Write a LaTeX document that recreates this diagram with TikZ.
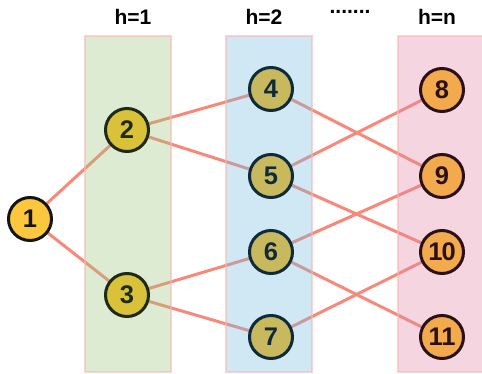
\documentclass[tikz,border=0pt]{standalone}
\usepackage{fontspec}
\setmainfont{Liberation Sans}
\definecolor{edgec}{HTML}{F8897A}
\definecolor{gfill}{HTML}{9EC681}
\definecolor{bfill}{HTML}{79BAE0}
\definecolor{pfill}{HTML}{E287A4}
\definecolor{boxborder}{HTML}{F7B8B2}
\definecolor{c1fill}{HTML}{FCC73C}
\definecolor{c2fill}{HTML}{D9C23A}
\definecolor{c3fill}{HTML}{C9B95E}
\definecolor{c4fill}{HTML}{F2AA4C}
\definecolor{c1line}{HTML}{141414}
\definecolor{c2line}{HTML}{1E2A18}
\definecolor{c3line}{HTML}{0F2A3A}
\definecolor{c4line}{HTML}{2A1018}
\tikzset{
  vnode/.style={circle, minimum size=43pt, inner sep=0pt, line width=3pt,
    font=\fontsize{25.5}{25.5}\selectfont\bfseries},
  n1/.style={vnode, fill=c1fill, draw=c1line, text=c1line},
  n2/.style={vnode, fill=c2fill, draw=c2line, text=c2line},
  n3/.style={vnode, fill=c3fill, draw=c3line, text=c3line},
  n4/.style={vnode, fill=c4fill, draw=c4line, text=c4line},
  edge/.style={draw=edgec, line width=3pt},
  layerbox/.style={fill opacity=0.35, draw=boxborder, draw opacity=0.6, line width=2pt},
  hlabel/.style={anchor=base, inner sep=0pt, font=\fontsize{21}{21}\selectfont\bfseries}
}
\begin{document}
\begin{tikzpicture}[x=1pt,y=-1pt]
\useasboundingbox (0,0) rectangle (482,374);
% node positions (coordinates only, nodes drawn later)
\coordinate (p1) at (30,219);
\coordinate (p2) at (127,130);
\coordinate (p3) at (127,295);
\coordinate (p4) at (271,89);
\coordinate (p5) at (271,176);
\coordinate (p6) at (271,252);
\coordinate (p7) at (271,337);
\coordinate (p8) at (442,90);
\coordinate (p9) at (442,176);
\coordinate (p10) at (442,252);
\coordinate (p11) at (442,337);
% edges
\draw[edge] (p1) -- (p2);
\draw[edge] (p1) -- (p3);
\draw[edge] (p2) -- (p4);
\draw[edge] (p2) -- (p5);
\draw[edge] (p3) -- (p6);
\draw[edge] (p3) -- (p7);
\draw[edge] (p4) -- (p9);
\draw[edge] (p5) -- (p8);
\draw[edge] (p5) -- (p10);
\draw[edge] (p6) -- (p9);
\draw[edge] (p6) -- (p11);
\draw[edge] (p7) -- (p10);
% layer boxes
\draw[layerbox, fill=gfill] (85,36) rectangle (171,372);
\draw[layerbox, fill=bfill] (226,36) rectangle (312,372);
\draw[layerbox, fill=pfill] (398,36) rectangle (488,372);
% nodes
\node[n1] (v1) at (p1) {1};
\node[n2] (v2) at (p2) {2};
\node[n2] (v3) at (p3) {3};
\node[n3] (v4) at (p4) {4};
\node[n3] (v5) at (p5) {5};
\node[n3] (v6) at (p6) {6};
\node[n3] (v7) at (p7) {7};
\node[n4] (v8) at (p8) {8};
\node[n4] (v9) at (p9) {9};
\node[n4] (v10) at (p10) {1\kern-1pt0};
\node[n4] (v11) at (p11) {1\kern-1.5pt1};
% labels
\node[hlabel] (l1) at (133,25) {h=1};
\node[hlabel] (l2) at (264,25) {h=2};
\node[hlabel, text height=4pt] (ld) at (350,13.5) {.......};
\node[hlabel] (l3) at (437,25) {h=n};
\end{tikzpicture}
\end{document}
